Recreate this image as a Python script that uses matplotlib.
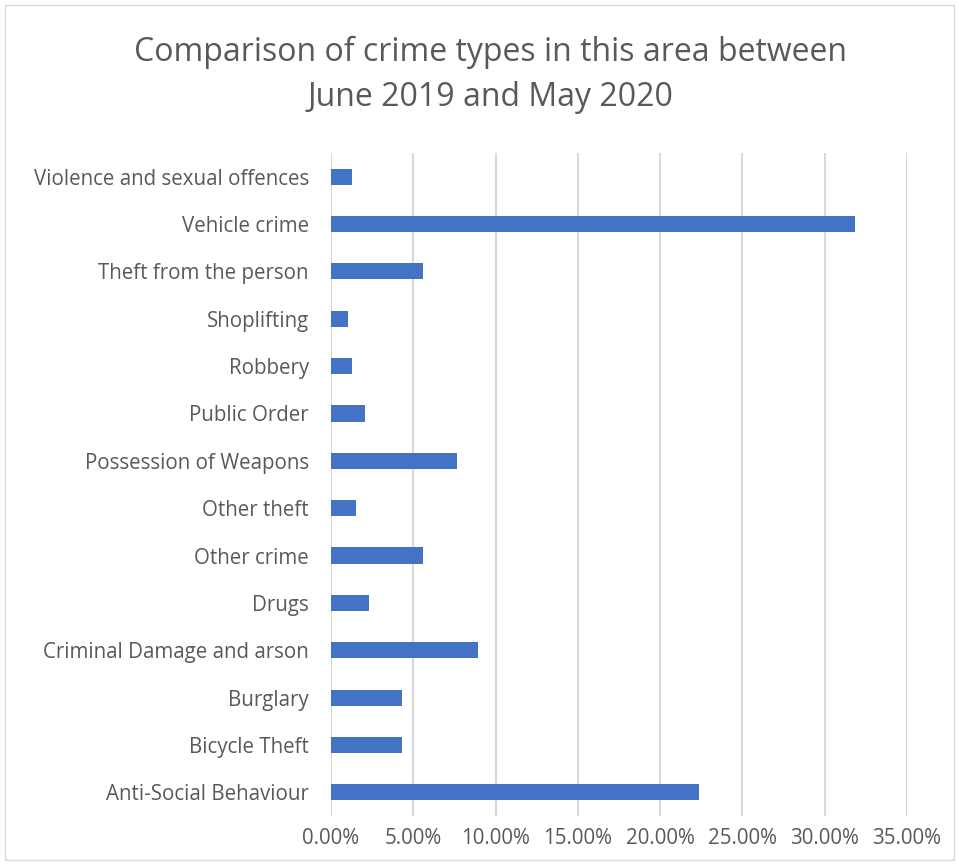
import matplotlib.pyplot as plt
from matplotlib.patches import Rectangle
from matplotlib.ticker import FuncFormatter

# crime categories, top to bottom as shown
categories = ['Violence and sexual offences', 'Vehicle crime', 'Theft from the person',
              'Shoplifting', 'Robbery', 'Public Order', 'Possession of Weapons',
              'Other theft', 'Other crime', 'Drugs', 'Criminal Damage and arson',
              'Burglary', 'Bicycle Theft', 'Anti-Social Behaviour']
# share of all crimes (fraction)
shares = [0.0127, 0.3181, 0.0560, 0.0102, 0.0127, 0.0204, 0.0763,
          0.0153, 0.0560, 0.0229, 0.0891, 0.0433, 0.0433, 0.2239]
xticks = [0, 0.05, 0.10, 0.15, 0.20, 0.25, 0.30, 0.35]

plt.rcParams['font.family'] = ['Open Sans', 'DejaVu Sans']
grey = '#595959'

fig = plt.figure(figsize=(9.59, 8.64), dpi=100)
fig.patches.append(Rectangle((5/959, 4/864), 949/959, 855/864, transform=fig.transFigure,
                             fill=False, edgecolor='#D9D9D9', linewidth=1))
ax = fig.add_axes([331/959, 48/864, 576/959, 663/864])

y = list(range(len(categories)))[::-1]
ax.barh(y, shares, height=0.34, color='#4472C4', zorder=3)
ax.set_ylim(-0.5, len(categories) - 0.5)
ax.set_xlim(0, 0.35)
ax.set_yticks(y)
ax.set_yticklabels(categories)
ax.set_xticks(xticks)
ax.xaxis.set_major_formatter(FuncFormatter(lambda v, p: '%.2f%%' % (v * 100)))
ax.tick_params(axis='both', length=0, labelsize=14.8, labelcolor=grey)
ax.tick_params(axis='y', pad=16)
ax.tick_params(axis='x', pad=9)
ax.grid(axis='x', color='#D9D9D9', linewidth=1.5, zorder=0)
for s in ax.spines.values():
    s.set_visible(False)

fig.text(490/959, 1 - 52/864, 'Comparison of crime types in this area between',
         ha='center', va='center', fontsize=23, color=grey)
fig.text(490/959, 1 - 97/864, 'June 2019 and May 2020',
         ha='center', va='center', fontsize=23, color=grey)

fig.savefig('out.png', dpi=100)
